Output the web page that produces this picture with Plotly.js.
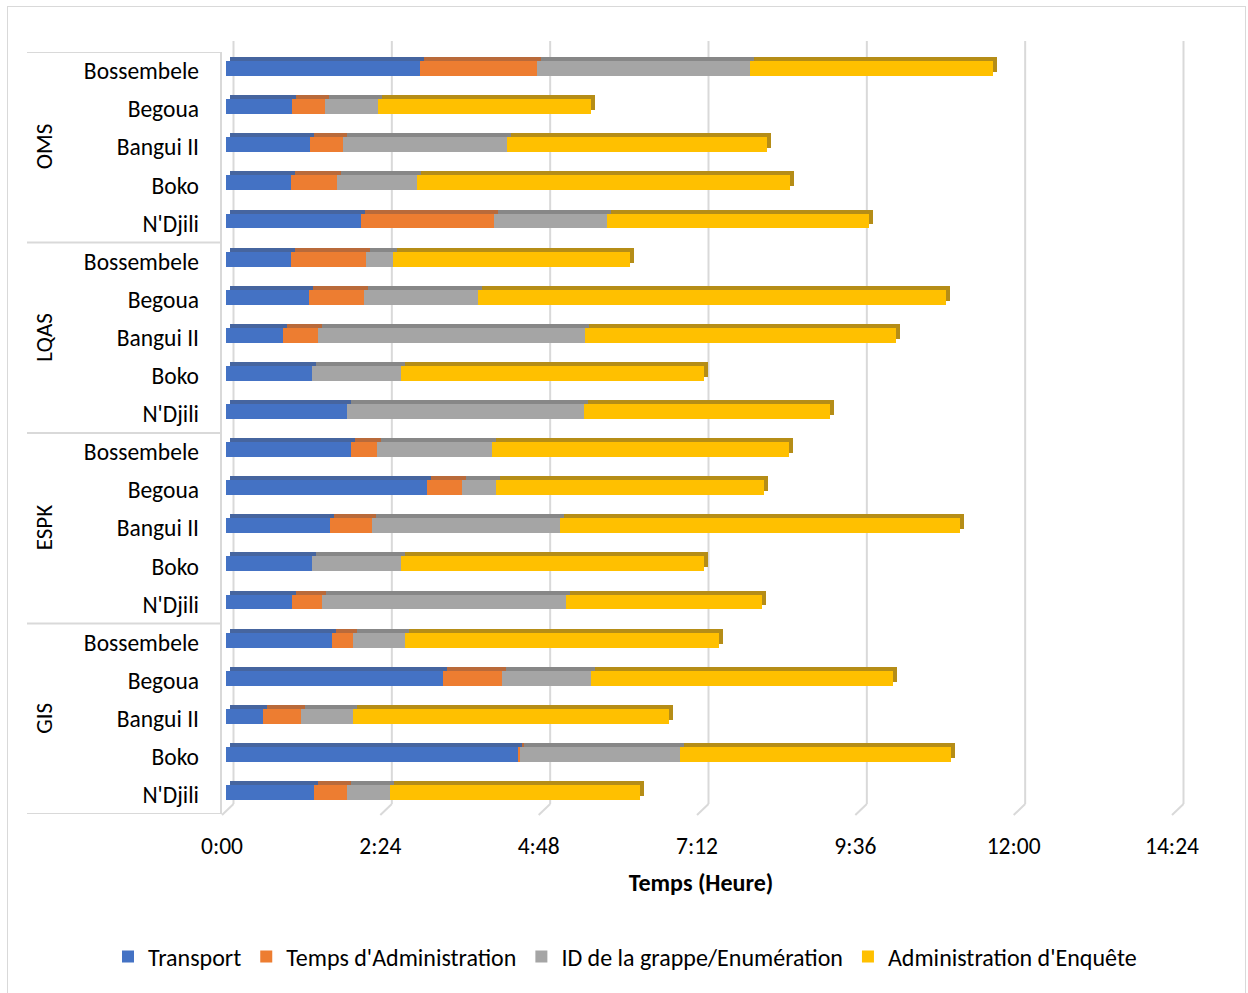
<!DOCTYPE html>
<html>
<head>
<meta charset="utf-8">
<script src="https://cdn.plot.ly/plotly-3.0.1.min.js"></script>
<style>
  html, body { margin: 0; padding: 0; background: #ffffff; }
  #wrap { position: relative; width: 1248px; height: 993px; overflow: hidden; }
  #frame { position: absolute; left: 7px; top: 6px; width: 1239px; height: 1000px;
           border: 1px solid #d9d9d9; box-sizing: border-box; pointer-events: none; }
  #chart { position: absolute; left: 0; top: 0; width: 1248px; height: 993px; }
</style>
</head>
<body>
<div id="wrap">
  <div id="chart"></div>
  <div id="frame"></div>
</div>
<script>
// Survey methods (groups) and sites, listed top to bottom
const groups = ['OMS', 'LQAS', 'ESPK', 'GIS'];
const sites = ['Bossembele', 'Begoua', 'Bangui II', 'Boko', "N'Djili"];

// Durations in hours, one value per group/site row (same order as above)
const transport = [2.94, 1.00, 1.27, 0.99, 2.05,
                   0.99, 1.26, 0.86, 1.31, 1.84,
                   1.89, 3.04, 1.58, 1.31, 1.00,
                   1.61, 3.29, 0.56, 4.43, 1.34];
const adminTime = [1.78, 0.50, 0.51, 0.69, 2.01,
                   1.13, 0.83, 0.54, 0.00, 0.00,
                   0.40, 0.54, 0.63, 0.00, 0.46,
                   0.32, 0.89, 0.58, 0.02, 0.50];
const clusterId = [3.23, 0.81, 2.48, 1.22, 1.72,
                   0.41, 1.73, 4.04, 1.35, 3.59,
                   1.74, 0.51, 2.85, 1.35, 3.69,
                   0.79, 1.35, 0.79, 2.43, 0.64];
const surveyAdmin = [3.68, 3.23, 3.94, 5.65, 3.97,
                     3.59, 7.10, 4.72, 4.58, 3.73,
                     4.51, 4.07, 6.07, 4.58, 2.97,
                     4.75, 4.58, 4.79, 4.11, 3.79];

const seriesNames = ['Transport', "Temps d'Administration", 'ID de la grappe/Enumération', "Administration d'Enquête"];
const tickHours = [0, 2.4, 4.8, 7.2, 9.6, 12, 14.4];
const tickText = ['0:00', '2:24', '4:48', '7:12', '9:36', '12:00', '14:24'];

// Styling
const faceColors = ['#4472c4', '#ed7d31', '#a5a5a5', '#ffc000'];
const sideColors = ['#46659f', '#b96a3a', '#878787', '#b58d17'];
const FONT = 'Carlito, Lato, sans-serif';

// Geometry of the plotting area (pixels)
const W = 1248, H = 993;
const M = { l: 226, r: 72, t: 52, b: 179 };
const plotW = W - M.l - M.r;
const plotH = H - M.t - M.b;
const xMax = 14.4;
const pxPerHour = plotW / xMax;
const nRows = groups.length * sites.length;
const pxPerRow = plotH / nRows;
const depthPx = 4;            // extrusion of the bars
const dx = depthPx / pxPerHour;
const dy = depthPx / pxPerRow;

// Unique row keys, labelled with the site name
const rowKeys = [];
const rowLabels = [];
groups.forEach(g => sites.forEach(s => { rowKeys.push(g + '|' + s); rowLabels.push(s); }));

const values = [transport, adminTime, clusterId, surveyAdmin];
const barWidth = 0.39, barOffset = -0.26;

const traces = [];
// darker extrusion (top and end faces), drawn behind
values.forEach((v, i) => {
  traces.push({
    type: 'bar', orientation: 'h', x: v, y: rowKeys,
    xaxis: 'x', yaxis: 'y', width: barWidth, offset: barOffset,
    marker: { color: sideColors[i], line: { width: 0 } },
    showlegend: false, hoverinfo: 'skip'
  });
});
// front faces
values.forEach((v, i) => {
  traces.push({
    type: 'bar', orientation: 'h', x: v, y: rowKeys, name: seriesNames[i],
    xaxis: 'x2', yaxis: 'y2', width: barWidth, offset: barOffset,
    marker: { color: faceColors[i], line: { width: 0 } }
  });
});

const gridColor = '#d9d9d9';
const shapes = [];
// paper coordinates from pixel offsets relative to the plotting area
const py = p => (H - M.b - p) / plotH;
const pxHour = (h, shift) => (h * pxPerHour + shift) / plotW;
// back-wall gridlines with their floor returns
tickHours.forEach(v => {
  const back = pxHour(v, 7.5);
  const front = pxHour(v, -4);
  shapes.push({ type: 'line', layer: 'below', xref: 'paper', yref: 'paper',
    x0: back, x1: back, y0: py(41), y1: py(804), line: { color: gridColor, width: 2 } });
  shapes.push({ type: 'line', layer: 'below', xref: 'paper', yref: 'paper',
    x0: back, x1: front, y0: py(804), y1: py(815), line: { color: gridColor, width: 2 } });
});
// category axis line
shapes.push({ type: 'line', xref: 'paper', yref: 'paper', x0: -5 / plotW, x1: -5 / plotW,
  y0: 1, y1: py(814), line: { color: gridColor, width: 2 } });
// group dividers
for (let k = 0; k <= groups.length; k++) {
  const yv = k * sites.length - 0.5;
  shapes.push({ type: 'line', xref: 'paper', yref: 'y2', x0: (27 - M.l) / plotW, x1: -5 / plotW,
    y0: yv, y1: yv, line: { color: gridColor, width: 2 } });
}

// rotated group names centred on each block
const annotations = groups.map((g, k) => ({
  text: g, xref: 'paper', yref: 'y2', x: (44 - M.l) / plotW, y: rowKeys[k * sites.length + 2],
  xanchor: 'center', yanchor: 'middle', textangle: -90, showarrow: false,
  font: { family: FONT, size: 23, color: '#000000' }
}));

const layout = {
  width: W, height: H,
  margin: M,
  paper_bgcolor: 'rgba(0,0,0,0)', plot_bgcolor: 'rgba(0,0,0,0)',
  barmode: 'stack',
  showlegend: true,
  legend: {
    orientation: 'h', x: (108 - M.l) / plotW, xanchor: 'left', y: py(957), yanchor: 'middle',
    traceorder: 'normal', font: { family: FONT, size: 24, color: '#000000' }
  },
  xaxis: {
    range: [-dx, xMax - dx], showgrid: false, zeroline: false, showline: false,
    showticklabels: false, fixedrange: true
  },
  yaxis: {
    type: 'category', categoryorder: 'array', categoryarray: rowKeys,
    range: [nRows - 0.5 + dy, -0.5 + dy], showgrid: false, zeroline: false, showline: false,
    showticklabels: false, fixedrange: true
  },
  xaxis2: {
    overlaying: 'x', anchor: 'y2', side: 'bottom', range: [0, xMax],
    showgrid: false, zeroline: false, showline: false,
    tickmode: 'array', tickvals: tickHours, ticktext: tickText,
    ticks: '', ticklabelstandoff: 15, ticklabelshift: -4,
    tickfont: { family: FONT, size: 23.5, color: '#000000' },
    title: { text: 'Temps (Heure)', standoff: 15,
      font: { family: FONT, size: 24, color: '#000000', weight: 'bold' } },
    fixedrange: true
  },
  yaxis2: {
    overlaying: 'y', anchor: 'x2', side: 'left', type: 'category',
    categoryorder: 'array', categoryarray: rowKeys,
    range: [nRows - 0.5, -0.5], showgrid: false, zeroline: false, showline: false,
    tickmode: 'array', tickvals: rowKeys, ticktext: rowLabels,
    ticks: '', ticklabelstandoff: 26,
    tickfont: { family: FONT, size: 23.5, color: '#000000' },
    fixedrange: true
  },
  shapes: shapes,
  annotations: annotations
};

Plotly.newPlot('chart', traces, layout, { displayModeBar: false, staticPlot: true });
</script>
</body>
</html>
